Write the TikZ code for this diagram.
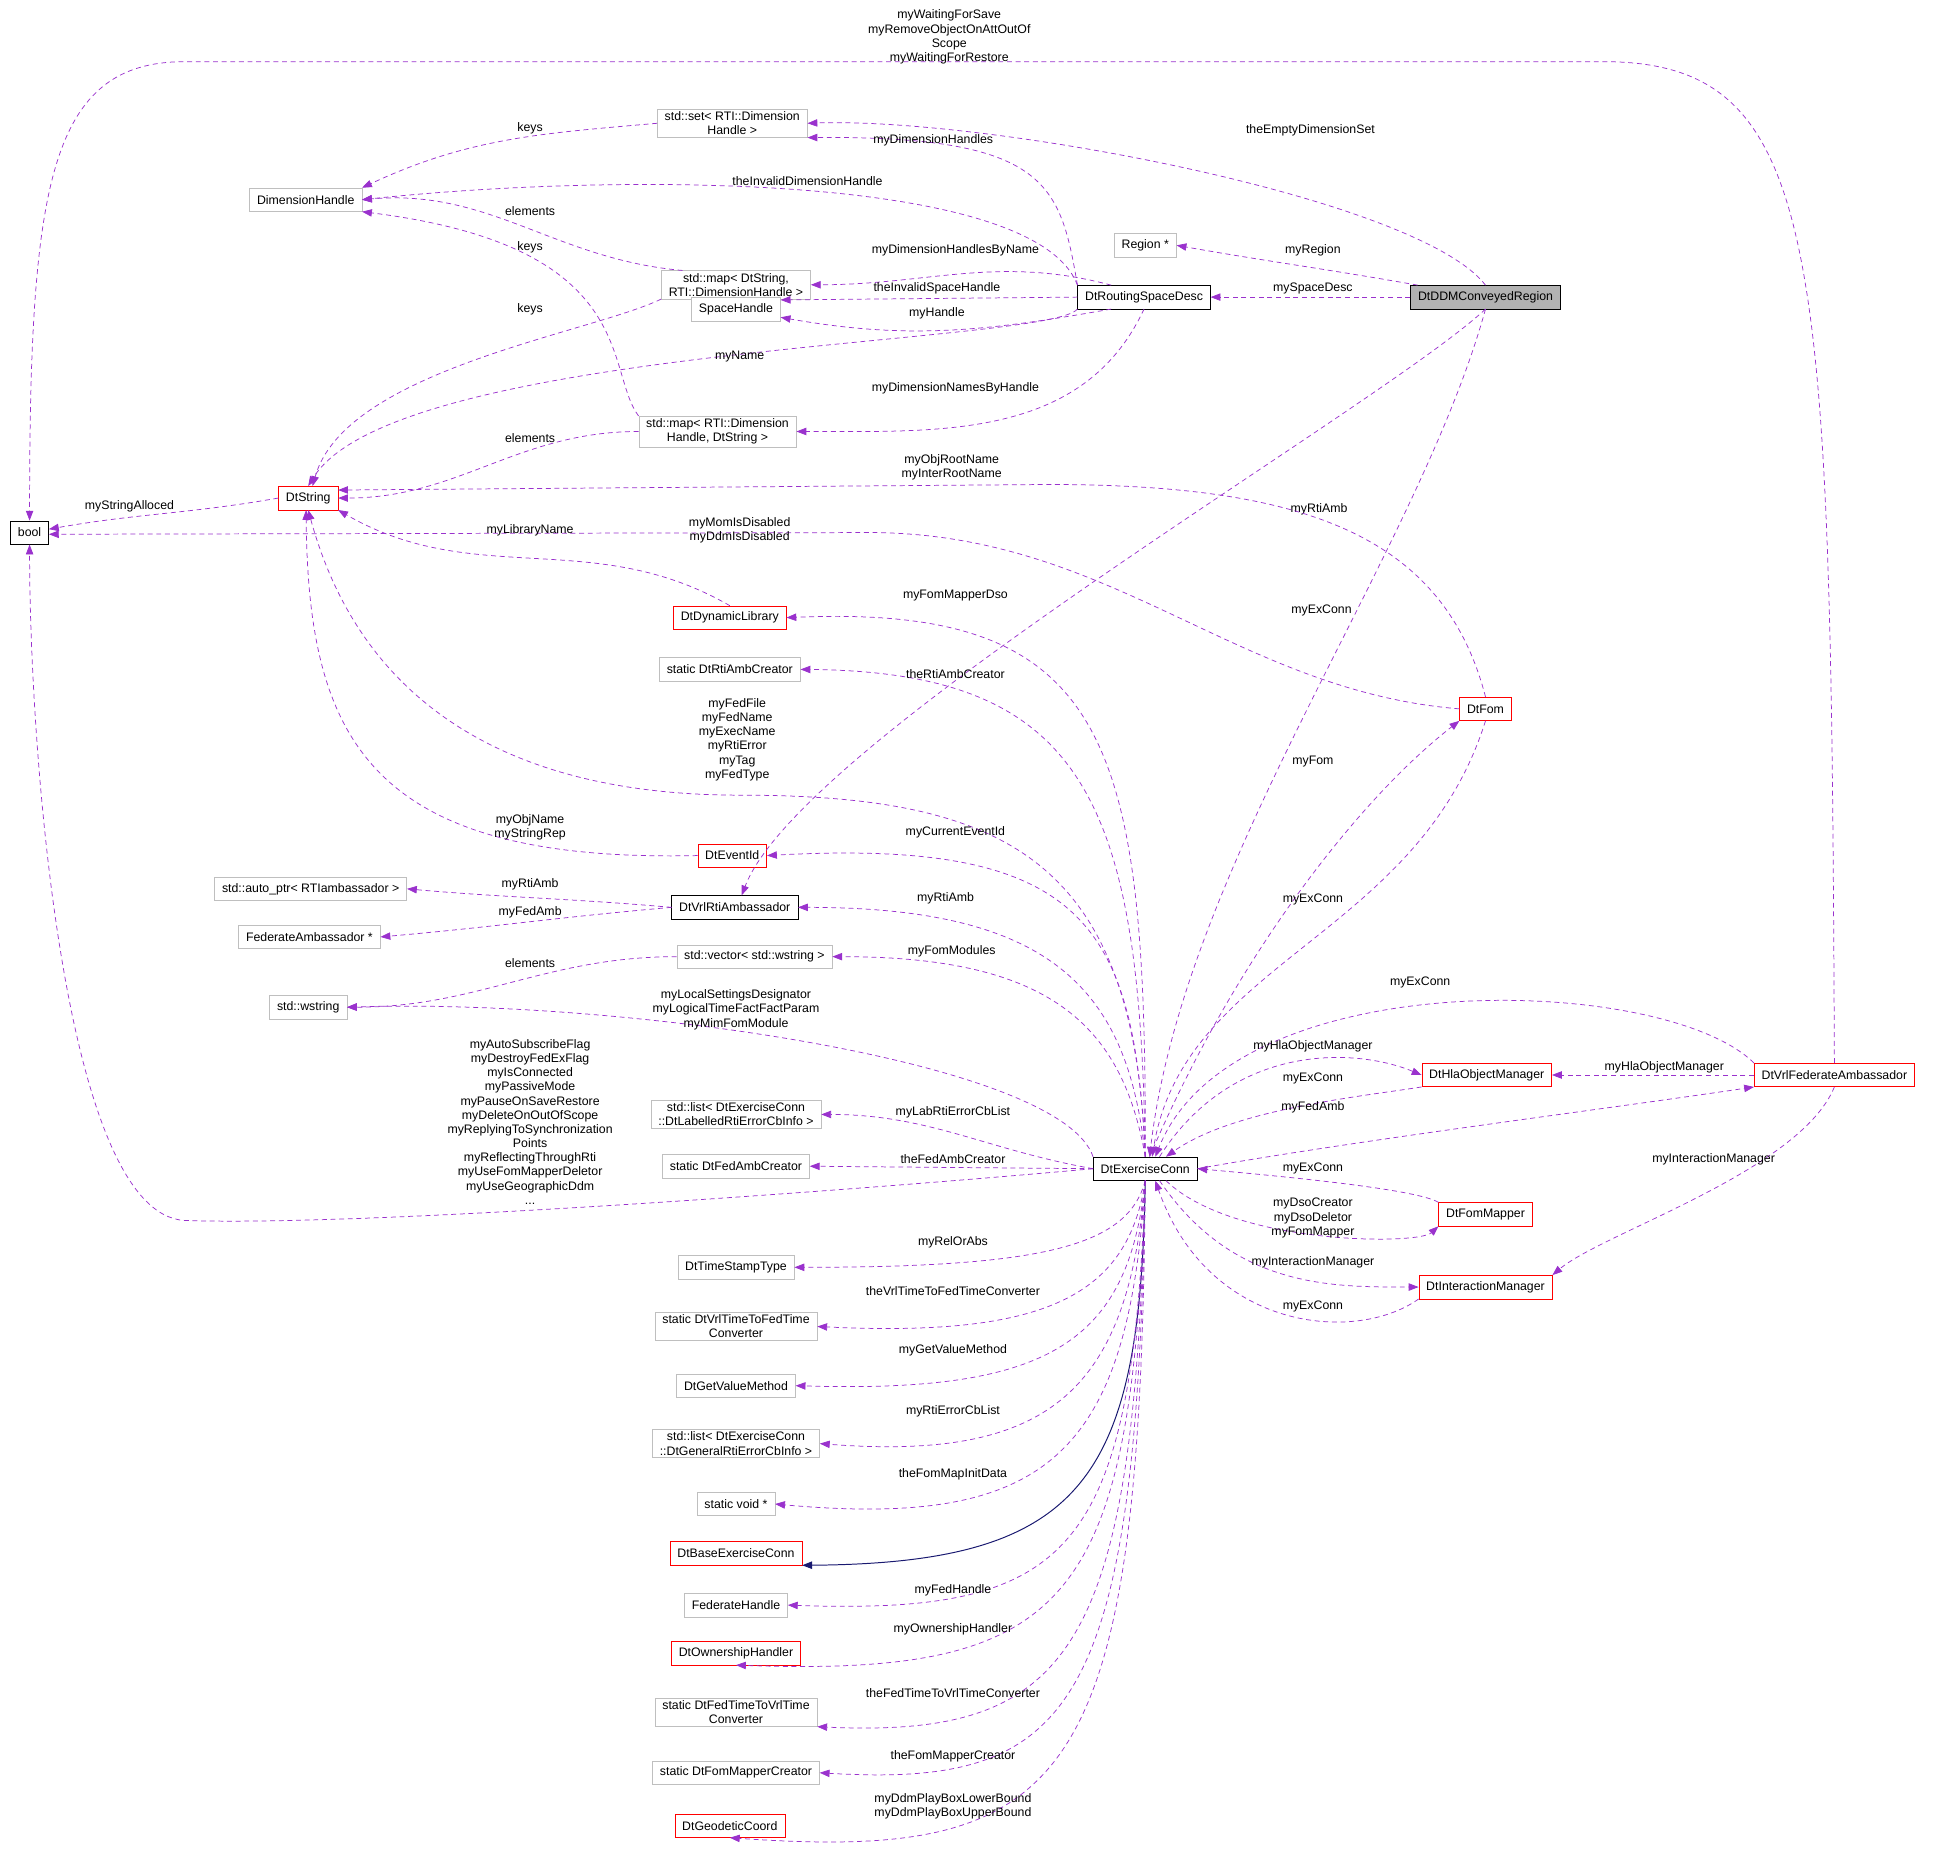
\documentclass[tikz,border=0pt]{standalone}
\usepackage{fontspec}
\setmainfont{Liberation Sans}
\usetikzlibrary{arrows.meta}
\definecolor{edgec}{HTML}{9A32CD}
\definecolor{grayb}{HTML}{BFBFBF}
\definecolor{navy}{HTML}{191970}
\begin{document}
\begin{tikzpicture}[x=1pt,y=-1pt,
  every node/.style={font=\fontsize{10}{11.5}\selectfont},
  box/.style={draw,minimum height=19pt,inner xsep=6pt,inner ysep=2pt,align=center,fill=white},
  gbox/.style={box,draw=grayb},
  rbox/.style={box,draw=red},
  kbox/.style={box,draw=black},
  mem/.style={draw=edgec,dash pattern=on 4pt off 3pt,-{Triangle[length=8pt,width=6pt]},line width=0.6pt},
  inh/.style={draw=navy,-{Triangle[length=8pt,width=6pt]},line width=0.8pt},
  lab/.style={align=center,inner sep=0pt}]
\useasboundingbox (0,0) rectangle (1568,1516);
% nodes
\node[kbox] (bool) at (24,432) {bool};
\node[rbox] (dts) at (250,404) {DtString};
\node[gbox] (dimh) at (248,162) {DimensionHandle};
\node[gbox] (set) at (594,100) {std::set< RTI::Dimension\\Handle >};
\node[gbox] (maps) at (597,231) {std::map< DtString,\\RTI::DimensionHandle >};
\node[gbox] (region) at (929,199) {Region *};
\node[gbox] (space) at (597,251) {SpaceHandle};
\node[kbox] (rsd) at (928,241) {DtRoutingSpaceDesc};
\node[kbox,fill=gray!60] (ddm) at (1205,241) {DtDDMConveyedRegion};
\node[gbox] (mapr) at (582,350) {std::map< RTI::Dimension\\Handle, DtString >};
\node[rbox] (dyn) at (592,501) {DtDynamicLibrary};
\node[gbox] (rtic) at (592,543) {static DtRtiAmbCreator};
\node[rbox] (fom) at (1205,575) {DtFom};
\node[rbox] (evt) at (594,694) {DtEventId};
\node[gbox] (auto) at (252,721) {std::auto\_ptr< RTIambassador >};
\node[kbox] (vrti) at (596,736) {DtVrlRtiAmbassador};
\node[gbox] (fedamb) at (251,760) {FederateAmbassador *};
\node[gbox] (vec) at (612,776) {std::vector< std::wstring >};
\node[gbox] (wstr) at (250,817) {std::wstring};
\node[gbox] (listl) at (597,904) {std::list< DtExerciseConn\\::DtLabelledRtiErrorCbInfo >};
\node[rbox] (hla) at (1206,872) {DtHlaObjectManager};
\node[rbox] (vfa) at (1488,872) {DtVrlFederateAmbassador};
\node[gbox] (fac) at (597,946) {static DtFedAmbCreator};
\node[kbox] (dec) at (929,948) {DtExerciseConn};
\node[rbox] (fmap) at (1205,985) {DtFomMapper};
\node[gbox] (tst) at (597,1028) {DtTimeStampType};
\node[rbox] (im) at (1205,1044) {DtInteractionManager};
\node[gbox] (v2f) at (597,1076) {static DtVrlTimeToFedTime\\Converter};
\node[gbox] (gvm) at (597,1124) {DtGetValueMethod};
\node[gbox] (listg) at (597,1171) {std::list< DtExerciseConn\\::DtGeneralRtiErrorCbInfo >};
\node[gbox] (svoid) at (597,1220) {static void *};
\node[rbox] (base) at (597,1260) {DtBaseExerciseConn};
\node[gbox] (fh) at (597,1302) {FederateHandle};
\node[rbox] (own) at (597,1341) {DtOwnershipHandler};
\node[gbox] (f2v) at (597,1389) {static DtFedTimeToVrlTime\\Converter};
\node[gbox] (fmc) at (597,1438) {static DtFomMapperCreator};
\node[rbox] (geo) at (592,1481) {DtGeodeticCoord};
% edges
\draw[mem] (vfa.north) .. controls (1485,200) and (1480,50) .. (1300,50) -- (150,50) .. controls (40,50) and (24,150) .. (bool.north);
\node[lab] at (770,30) {myWaitingForSave\\myRemoveObjectOnAttOutOf\\Scope\\myWaitingForRestore};
\draw[mem] (ddm.north) .. controls (1150,160) and (800,95) .. (set.east);
\node[lab] at (1063,106) {theEmptyDimensionSet};
\draw[mem] (ddm.170) to[out=170,in=-10] (region.east);
\node[lab] at (1065,203) {myRegion};
\draw[mem] (ddm.west) -- (rsd.east);
\node[lab] at (1065,234) {mySpaceDesc};
\draw[mem] (ddm.south) .. controls (1120,330) and (650,600) .. (vrti.60);
\node[lab] at (1070,413) {myRtiAmb};
\draw[mem] (ddm.south) .. controls (1150,450) and (960,700) .. (dec.70);
\node[lab] at (1072,495) {myExConn};
\draw[mem] (rsd.north west) .. controls (860,150) and (850,110) .. (set.south east);
\node[lab] at (757,114) {myDimensionHandles};
\draw[mem] (rsd.north west) .. controls (840,140) and (500,140) .. (dimh.east);
\node[lab] at (655,147) {theInvalidDimensionHandle};
\draw[mem] (rsd.160) to[out=165,in=0] (maps.east);
\node[lab] at (775,203) {myDimensionHandlesByName};
\draw[mem] (rsd.west) -- (space.12);
\node[lab] at (760,234) {theInvalidSpaceHandle};
\draw[mem] (rsd.200) to[out=-170,in=-10] (space.-10);
\node[lab] at (760,254) {myHandle};
\draw[mem] (rsd.south west) .. controls (850,280) and (320,280) .. (dts.north);
\node[lab] at (600,289) {myName};
\draw[mem] (rsd.south) to[out=-115,in=0] (mapr.east);
\node[lab] at (775,315) {myDimensionNamesByHandle};
\draw[mem] (set.west) to[out=185,in=25] (dimh.north east);
\node[lab] at (430,104) {keys};
\draw[mem] (maps.165) to[out=175,in=5] (dimh.east);
\node[lab] at (430,171) {elements};
\draw[mem] (maps.south west) .. controls (480,270) and (280,300) .. (dts.70);
\node[lab] at (430,251) {keys};
\draw[mem] (mapr.north west) .. controls (490,300) and (520,200) .. (dimh.south east);
\node[lab] at (430,201) {keys};
\draw[mem] (mapr.west) to[out=180,in=0] (dts.east);
\node[lab] at (430,355) {elements};
\draw[mem] (dts.west) to[out=190,in=10] (bool.10);
\node[lab] at (105,411) {myStringAlloced};
\draw[mem] (fom.north) .. controls (1170,430) and (1050,393) .. (850,393) -- (dts.15);
\node[lab] at (772,379) {myObjRootName\\myInterRootName};
\draw[mem] (fom.west) .. controls (1000,560) and (900,430) .. (700,432) -- (bool.-5);
\node[lab] at (600,430) {myMomIsDisabled\\myDdmIsDisabled};
\draw[mem] (dyn.north) to[out=150,in=-30] (dts.south east);
\node[lab] at (430,430) {myLibraryName};
\draw[mem] (dec.north) .. controls (930,600) and (900,490) .. (dyn.east);
\node[lab] at (775,483) {myFomMapperDso};
\draw[mem] (dec.north) .. controls (925,650) and (880,545) .. (rtic.east);
\node[lab] at (775,547) {theRtiAmbCreator};
\draw[mem] (dec.north) .. controls (920,700) and (820,645) .. (600,645) .. controls (400,645) and (290,560) .. (dts.south);
\node[lab] at (598,600) {myFedFile\\myFedName\\myExecName\\myRtiError\\myTag\\myFedType};
\draw[mem] (evt.west) .. controls (300,700) and (250,600) .. (dts.-100);
\node[lab] at (430,671) {myObjName\\myStringRep};
\draw[mem] (dec.north) .. controls (920,750) and (880,680) .. (evt.east);
\node[lab] at (775,675) {myCurrentEventId};
\draw[mem] (vrti.west) to[out=175,in=-5] (auto.east);
\node[lab] at (430,717) {myRtiAmb};
\draw[mem] (vrti.west) to[out=-175,in=5] (fedamb.east);
\node[lab] at (430,740) {myFedAmb};
\draw[mem] (dec.north) .. controls (915,800) and (850,736) .. (vrti.east);
\node[lab] at (767,729) {myRtiAmb};
\draw[mem] (dec.north) .. controls (910,830) and (850,776) .. (vec.east);
\node[lab] at (772,772) {myFomModules};
\draw[mem] (vec.west) to[out=180,in=0] (wstr.east);
\node[lab] at (430,781) {elements};
\draw[mem] (dec.north west) .. controls (860,860) and (500,810) .. (wstr.east);
\node[lab] at (597,819) {myLocalSettingsDesignator\\myLogicalTimeFactFactParam\\myMimFomModule};
\draw[mem] (dec.west) .. controls (700,965) and (300,995) .. (150,990) .. controls (50,985) and (24,600) .. (bool.south);
\node[lab] at (430,910) {myAutoSubscribeFlag\\myDestroyFedExFlag\\myIsConnected\\myPassiveMode\\myPauseOnSaveRestore\\myDeleteOnOutOfScope\\myReplyingToSynchronization\\Points\\myReflectingThroughRti\\myUseFomMapperDeletor\\myUseGeographicDdm\\...};
\draw[mem] (dec.west) to[out=170,in=0] (listl.east);
\node[lab] at (773,902) {myLabRtiErrorCbList};
\draw[mem] (dec.west) -- (fac.east);
\node[lab] at (773,940) {theFedAmbCreator};
\draw[mem] (dec.south) .. controls (915,1010) and (850,1028) .. (tst.east);
\node[lab] at (773,1008) {myRelOrAbs};
\draw[mem] (dec.south) .. controls (915,1050) and (850,1085) .. (v2f.east);
\node[lab] at (773,1047) {theVrlTimeToFedTimeConverter};
\draw[mem] (dec.south) .. controls (915,1090) and (850,1130) .. (gvm.east);
\node[lab] at (773,1095) {myGetValueMethod};
\draw[mem] (dec.south) .. controls (915,1130) and (850,1185) .. (listg.east);
\node[lab] at (773,1145) {myRtiErrorCbList};
\draw[mem] (dec.south) .. controls (915,1180) and (850,1240) .. (svoid.east);
\node[lab] at (773,1196) {theFomMapInitData};
\draw[inh] (dec.south) .. controls (925,1200) and (880,1268) .. (base.south east);
\draw[mem] (dec.south) .. controls (918,1260) and (870,1310) .. (fh.east);
\node[lab] at (773,1290) {myFedHandle};
\draw[mem] (dec.south) .. controls (918,1300) and (870,1360) .. (own.south);
\node[lab] at (773,1322) {myOwnershipHandler};
\draw[mem] (dec.south) .. controls (920,1340) and (870,1410) .. (f2v.south east);
\node[lab] at (773,1373) {theFedTimeToVrlTimeConverter};
\draw[mem] (dec.south) .. controls (922,1390) and (870,1450) .. (fmc.east);
\node[lab] at (773,1425) {theFomMapperCreator};
\draw[mem] (dec.south) .. controls (925,1450) and (870,1510) .. (geo.south);
\node[lab] at (773,1465) {myDdmPlayBoxLowerBound\\myDdmPlayBoxUpperBound};
\draw[mem] (dec.70) .. controls (1000,780) and (1100,650) .. (fom.south west);
\node[lab] at (1065,618) {myFom};
\draw[mem] (fom.south) .. controls (1150,760) and (960,780) .. (dec.60);
\node[lab] at (1065,730) {myExConn};
\draw[mem] (vfa.north west) .. controls (1350,790) and (1000,780) .. (dec.50);
\node[lab] at (1152,797) {myExConn};
\draw[mem] (dec.40) .. controls (1000,845) and (1100,850) .. (hla.west);
\node[lab] at (1065,849) {myHlaObjectManager};
\draw[mem] (hla.south west) .. controls (1100,890) and (1000,900) .. (dec.30);
\node[lab] at (1065,875) {myExConn};
\draw[mem] (dec.east) .. controls (1100,925) and (1300,900) .. (vfa.south west);
\node[lab] at (1065,898) {myFedAmb};
\draw[mem] (vfa.west) -- (hla.east);
\node[lab] at (1350,866) {myHlaObjectManager};
\draw[mem] (fmap.north west) .. controls (1150,965) and (1050,955) .. (dec.east);
\node[lab] at (1065,948) {myExConn};
\draw[mem] (dec.-30) .. controls (1000,1010) and (1150,1010) .. (fmap.south west);
\node[lab] at (1065,988) {myDsoCreator\\myDsoDeletor\\myFomMapper};
\draw[mem] (dec.-40) .. controls (1000,1045) and (1080,1044) .. (im.west);
\node[lab] at (1065,1024) {myInteractionManager};
\draw[mem] (im.south west) .. controls (1100,1090) and (980,1080) .. (dec.-50);
\node[lab] at (1065,1060) {myExConn};
\draw[mem] (vfa.south) .. controls (1460,950) and (1300,1000) .. (im.north east);
\node[lab] at (1390,940) {myInteractionManager};
\end{tikzpicture}
\end{document}
